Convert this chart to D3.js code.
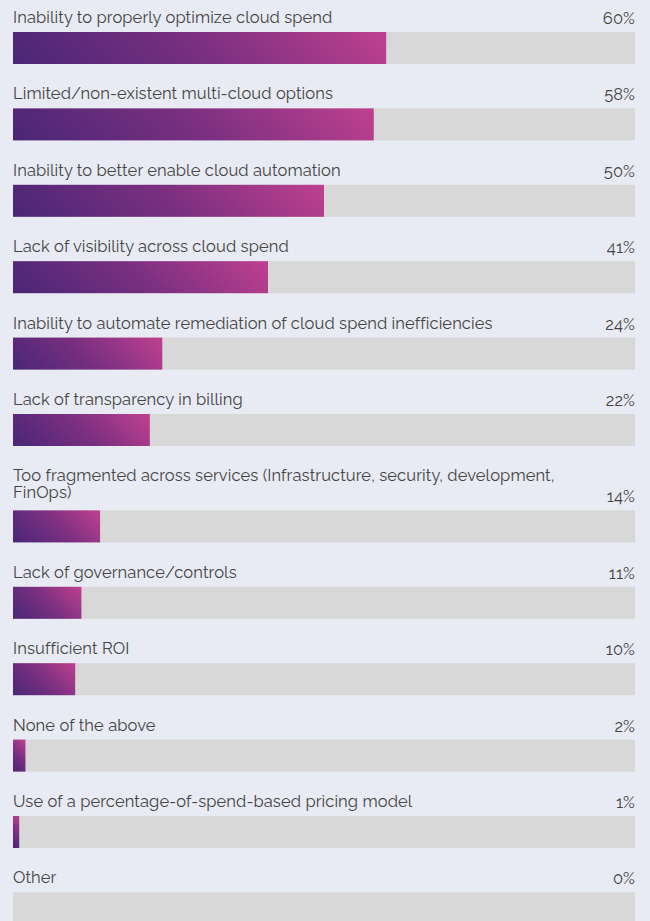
<!DOCTYPE html>
<html>
<head>
<meta charset="utf-8">
<script src="https://cdn.jsdelivr.net/npm/d3@7"></script>
<style>
  html, body { margin: 0; padding: 0; background: #e8ebf3; }
  svg { display: block; }
  text { font-family: Raleway, Lato, "Open Sans", sans-serif; fill: #454545; letter-spacing: 0.1px; }
</style>
</head>
<body>
<svg id="chart" width="650" height="921"></svg>
<script>
// Survey responses: share of respondents choosing each challenge
const categories = [
  ["Inability to properly optimize cloud spend"],
  ["Limited/non-existent multi-cloud options"],
  ["Inability to better enable cloud automation"],
  ["Lack of visibility across cloud spend"],
  ["Inability to automate remediation of cloud spend inefficiencies"],
  ["Lack of transparency in billing"],
  ["Too fragmented across services (Infrastructure, security, development,", "FinOps)"],
  ["Lack of governance/controls"],
  ["Insufficient ROI"],
  ["None of the above"],
  ["Use of a percentage-of-spend-based pricing model"],
  ["Other"]
];
const values = [60, 58, 50, 41, 24, 22, 14, 11, 10, 2, 1, 0];

const svg = d3.select("#chart");
const left = 13, right = 635;
const barH = 32;
const rowStep = 76.4;     // vertical distance between single-line rows
const lineExtra = 20;     // extra space for each additional label line
const lineGap = 17.5;     // line spacing inside a wrapped label
const fontSize = 16.5;

const x = d3.scaleLinear().domain([0, 100]).range([left, right]);

// Top y of each bar, accounting for multi-line labels above it
const barTops = [];
let extra = 0;
categories.forEach((lines, i) => {
  extra += (lines.length - 1) * lineExtra;
  barTops.push(32 + i * rowStep + extra);
});

const data = values.map((v, i) => ({ i, v, lines: categories[i], top: barTops[i] }));

// One 45° gradient per bar (dark purple bottom-left -> magenta top-right)
const defs = svg.append("defs");
data.filter(d => d.v > 0).forEach(d => {
  const w = x(d.v) - x(0), h = barH;
  const cx = x(0) + w / 2, cy = d.top + h / 2;
  const half = (w + h) / 2 / Math.SQRT2;         // half-length of gradient line
  const ux = Math.SQRT1_2, uy = -Math.SQRT1_2;     // direction: up-right
  const g = defs.append("linearGradient")
    .attr("id", "grad" + d.i)
    .attr("gradientUnits", "userSpaceOnUse")
    .attr("x1", cx - ux * half).attr("y1", cy - uy * half)
    .attr("x2", cx + ux * half).attr("y2", cy + uy * half);
  g.append("stop").attr("offset", "0%").attr("stop-color", "#4a2676");
  g.append("stop").attr("offset", "50%").attr("stop-color", "#7a2f80");
  g.append("stop").attr("offset", "100%").attr("stop-color", "#bf408f");
});

const rows = svg.selectAll("g.row")
  .data(data)
  .join("g")
  .attr("class", "row");

// background track
rows.append("rect")
  .attr("x", x(0))
  .attr("y", d => d.top)
  .attr("width", x(100) - x(0))
  .attr("height", barH)
  .attr("fill", "#d8d8d8");

// value bar
rows.filter(d => d.v > 0).append("rect")
  .attr("x", x(0))
  .attr("y", d => d.top)
  .attr("width", d => x(d.v) - x(0))
  .attr("height", barH)
  .attr("fill", d => `url(#grad${d.i})`);

// category label (one or more lines)
rows.each(function (d) {
  const g = d3.select(this);
  const n = d.lines.length;
  d.lines.forEach((line, j) => {
    g.append("text")
      .attr("x", left)
      .attr("y", d.top - 9 - (n - 1 - j) * lineGap - (n > 1 ? 3 : 0))
      .attr("font-size", fontSize)
      .text(line);
  });
});

// value label
rows.append("text")
  .attr("x", right)
  .attr("y", d => d.top - 8)
  .attr("text-anchor", "end")
  .attr("font-size", fontSize)
  .text(d => d.v + "%");
</script>
</body>
</html>
